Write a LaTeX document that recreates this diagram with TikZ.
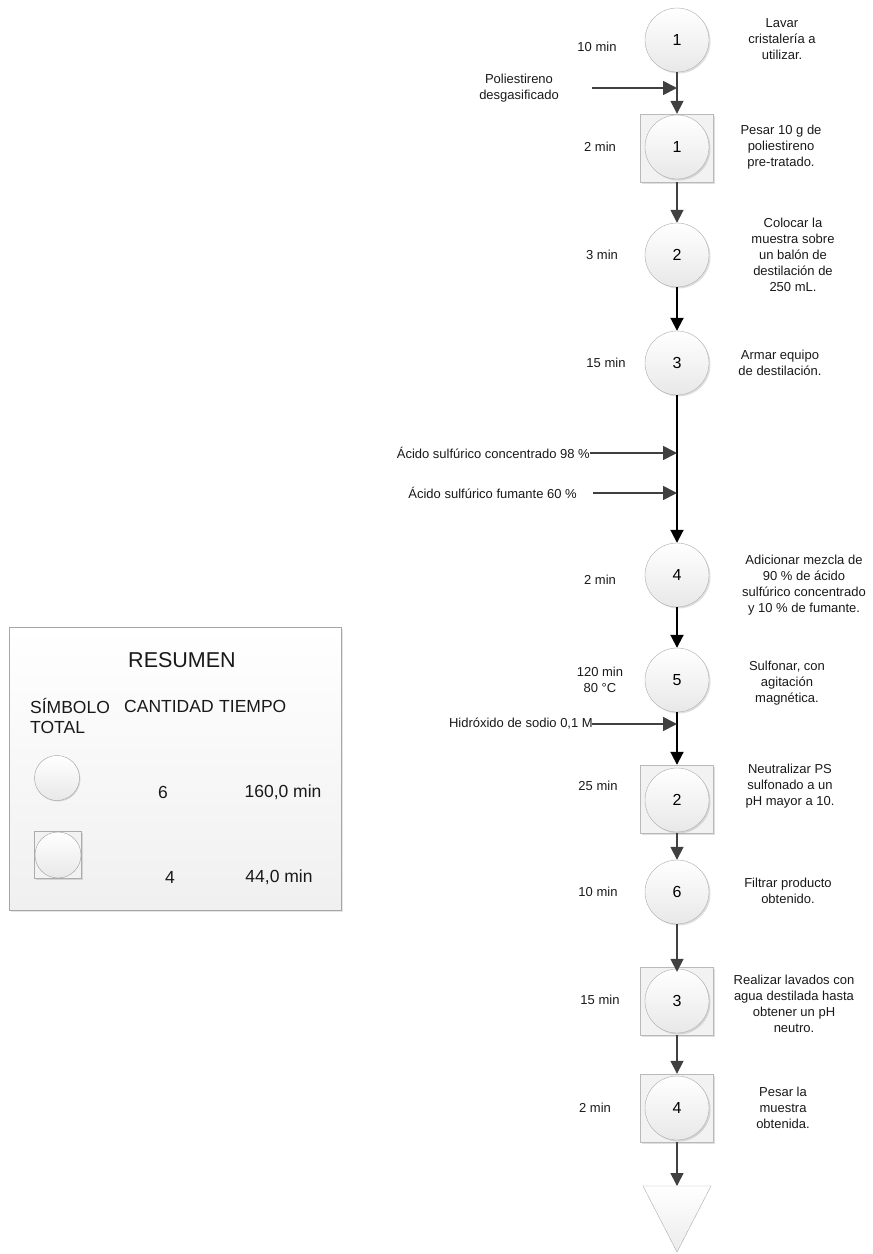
\documentclass[tikz,border=0pt]{standalone}
\usepackage{fontspec}
\setmainfont{Liberation Sans}
\usetikzlibrary{arrows.meta,shadows}
\begin{document}
\begin{tikzpicture}[x=1pt,y=-1pt,
  opc/.style={circle, draw=gray!65, top color=white, bottom color=gray!18, minimum size=64pt, inner sep=0pt,
    font=\fontsize{16}{18}\selectfont, drop shadow={shadow xshift=1.5pt, shadow yshift=-1.5pt, opacity=0.25}},
  sqbox/.style={rectangle, draw=gray!55, fill=gray!10, minimum width=73pt, minimum height=68pt, inner sep=0pt,
    drop shadow={shadow xshift=1.5pt, shadow yshift=-1.5pt, opacity=0.25}},
  lbl/.style={font=\fontsize{13}{16}\selectfont, align=center, text=black!90, inner sep=0pt},
  flow/.style={draw=black!75, line width=1.7pt, -{Triangle[length=13pt,width=13pt]}},
  flowb/.style={draw=black, line width=1.9pt, -{Triangle[length=13pt,width=13pt]}},
  inlet/.style={draw=black!75, line width=1.7pt, -{Triangle[length=14pt,width=14pt]}},
  sumtxt/.style={font=\fontsize{17.5}{20}\selectfont, text=black!90, inner sep=0pt},
]
\useasboundingbox (0,0) rectangle (873,1254);

% ---------- Summary box ----------
\node[draw=gray!70, top color=white, bottom color=gray!12, minimum width=332pt, minimum height=283pt, inner sep=0pt,
  drop shadow={shadow xshift=2pt, shadow yshift=-2pt, opacity=0.2}] (sumbox) at (175,768.5) {};
\node[sumtxt, font=\fontsize{21.5}{24}\selectfont] (restit) at (182,660) {RESUMEN};
\node[sumtxt, anchor=west, align=left] (hsim) at (30,716) {SÍMBOLO\\TOTAL};
\node[sumtxt, anchor=west] (hcant) at (124,706) {CANTIDAD};
\node[sumtxt, anchor=west] (htiem) at (219,706) {TIEMPO};
\node[circle, draw=gray!75, top color=white, bottom color=gray!18, minimum size=45pt, inner sep=0pt,
  drop shadow={shadow xshift=1pt, shadow yshift=-1pt, opacity=0.25}] (symc) at (57,778) {};
\node[sumtxt] (n6) at (163,792) {6};
\node[sumtxt] (t160) at (283,792) {160,0 min};
\node[rectangle, draw=gray!65, fill=gray!10, minimum size=47pt, inner sep=0pt,
  drop shadow={shadow xshift=1pt, shadow yshift=-1pt, opacity=0.25}] (symsb) at (58,855) {};
\node[circle, draw=gray!75, top color=white, bottom color=gray!18, minimum size=46pt, inner sep=0pt] (symsc) at (58,855) {};
\node[sumtxt] (n4) at (170,877) {4};
\node[sumtxt] (t44) at (279,877) {44,0 min};

% ---------- Main column ----------
\node[opc] (c1) at (677,40) {1};
\node[sqbox] (s1b) at (677,148) {};
\node[opc] (s1) at (677,147) {1};
\node[opc] (c2) at (677,255) {2};
\node[opc] (c3) at (677,363) {3};
\node[opc] (c4) at (677,575) {4};
\node[opc] (c5) at (677,680) {5};
\node[sqbox] (s2b) at (677,799) {};
\node[opc] (s2) at (677,800) {2};
\node[opc] (c6) at (677,892) {6};
\node[sqbox] (s3b) at (677,1001) {};
\node[opc] (s3) at (677,1001) {3};
\node[sqbox] (s4b) at (677,1108) {};
\node[opc] (s4) at (677,1108) {4};
\coordinate (fin) at (677,1186);
\draw[draw=gray!65, top color=white, bottom color=gray!15] (643,1186) -- (711,1186) -- (677,1252) -- cycle;

% times
\node[lbl] (t1) at (597,47) {10 min};
\node[lbl] (t2) at (600,147) {2 min};
\node[lbl] (t3) at (602,255) {3 min};
\node[lbl] (t4) at (606,363) {15 min};
\node[lbl] (t5) at (600,580) {2 min};
\node[lbl] (t6) at (600,680) {120 min\\80 °C};
\node[lbl] (t7) at (598,786) {25 min};
\node[lbl] (t8) at (598,892) {10 min};
\node[lbl] (t9) at (600,1000) {15 min};
\node[lbl] (t10) at (595,1108) {2 min};

% descriptions
\node[lbl] (d1) at (782,39) {Lavar\\cristalería a\\utilizar.};
\node[lbl] (d2) at (781,147) {Pesar 10 g de\\poliestireno\\pre-tratado.};
\node[lbl] (d3) at (793,255) {Colocar la\\muestra sobre\\un balón de\\destilación de\\250 mL.};
\node[lbl] (d4) at (780,363) {Armar equipo\\de destilación.};
\node[lbl] (d5) at (804,585) {Adicionar mezcla de\\90 \% de ácido\\sulfúrico concentrado\\y 10 \% de fumante.};
\node[lbl] (d6) at (787,683) {Sulfonar, con\\agitación\\magnética.};
\node[lbl] (d7) at (790,786) {Neutralizar PS\\sulfonado a un\\pH mayor a 10.};
\node[lbl] (d8) at (788,891) {Filtrar producto\\obtenido.};
\node[lbl] (d9) at (794,1004) {Realizar lavados con\\agua destilada hasta\\obtener un pH\\neutro.};
\node[lbl] (d10) at (783,1108) {Pesar la\\muestra\\obtenida.};

% inlet labels
\node[lbl] (in1) at (519,88) {Poliestireno\\desgasificado};
\node[lbl, anchor=east] (in2) at (590,453) {Ácido sulfúrico concentrado 98 \%};
\node[lbl, anchor=east] (in3) at (577,493) {Ácido sulfúrico fumante 60 \%};
\node[lbl, anchor=east] (in4) at (593,724) {Hidróxido de sodio 0,1 M};

\coordinate (a1) at (592,88);  \coordinate (j1) at (677,88);
\coordinate (a2) at (590,453); \coordinate (j2) at (677,453);
\coordinate (a3) at (593,493); \coordinate (j3) at (677,493);
\coordinate (a4) at (592,724); \coordinate (j4) at (677,724);

% connectors
\draw[flow] (c1.south) -- (s1b.north);
\draw[flow] (s1b.south) -- (c2.north);
\draw[flowb] (c2.south) -- (c3.north);
\draw[flowb] (c3.south) -- (c4.north);
\draw[flowb] (c4.south) -- (c5.north);
\draw[flowb] (c5.south) -- (s2b.north);
\draw[flow] (s2b.south) -- (c6.north);
\draw[flow] (c6.south) -- ([yshift=-5pt]s3b.north);
\draw[flow] (s3b.south) -- (s4b.north);
\draw[flow] (s4b.south) -- (fin);

\draw[inlet] (a1) -- (j1);
\draw[inlet] (a2) -- (j2);
\draw[inlet] (a3) -- (j3);
\draw[inlet] (a4) -- (j4);
\end{tikzpicture}
\end{document}
